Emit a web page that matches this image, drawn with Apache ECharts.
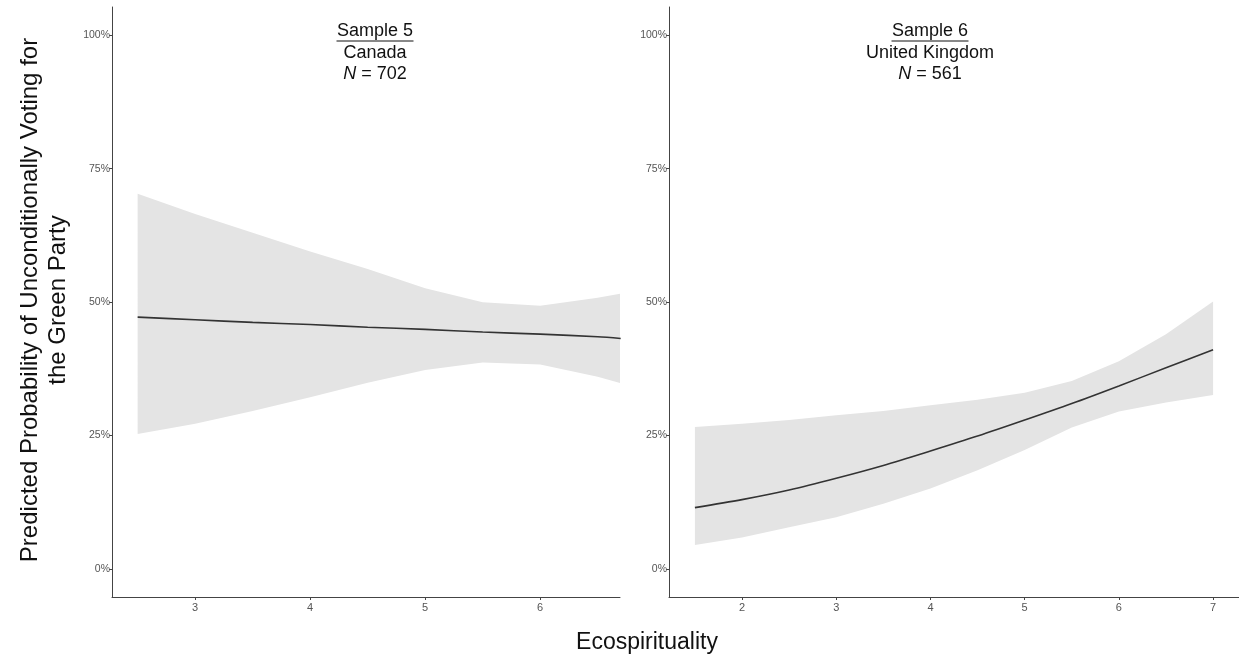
<!DOCTYPE html>
<html><head><meta charset="utf-8">
<script src="https://cdn.jsdelivr.net/npm/echarts@6/dist/echarts.min.js"></script>
<style>html,body{margin:0;padding:0;background:#fff}#c{width:1239px;height:661px}</style>
</head><body><div id="c"></div>
<script>
// Sample 5 - Canada
const canadaX     = [2.5, 3, 3.5, 4, 4.5, 5, 5.5, 6, 6.5, 6.7];
const canadaFit   = [47.2, 46.7, 46.2, 45.8, 45.3, 44.9, 44.4, 44.0, 43.5, 43.2];
const canadaLower = [25.3, 27.2, 29.6, 32.2, 34.9, 37.3, 38.7, 38.3, 36.0, 34.8];
const canadaUpper = [70.3, 66.5, 63.0, 59.5, 56.2, 52.6, 50.0, 49.3, 50.8, 51.6];
// Sample 6 - United Kingdom
const ukX     = [1.5, 2, 2.5, 3, 3.5, 4, 4.5, 5, 5.5, 6, 6.5, 7];
const ukFit   = [11.5, 13.0, 14.8, 17.0, 19.4, 22.1, 24.9, 27.9, 31.0, 34.3, 37.7, 41.1];
const ukLower = [4.5, 5.9, 7.8, 9.7, 12.2, 15.1, 18.5, 22.3, 26.5, 29.5, 31.2, 32.6];
const ukUpper = [26.6, 27.2, 27.9, 28.8, 29.6, 30.7, 31.7, 33.0, 35.2, 38.9, 44.0, 50.1];
// ticks
const yTicks = [0, 25, 50, 75, 100];
const canadaXTicks = [3, 4, 5, 6];
const ukXTicks = [2, 3, 4, 5, 6, 7];

const FONT = '"Liberation Sans", Arial, sans-serif';
const zip = (xs, ys) => xs.map((x, i) => [x, ys[i]]);

function xAxis(gi, min, max, ticks) {
  return {
    type: 'value', gridIndex: gi, min: min, max: max,
    axisLine: {show: true, onZero: false, lineStyle: {color: '#444', width: 1}},
    axisTick: {show: true, length: 3, customValues: ticks, lineStyle: {color: '#444'}},
    axisLabel: {customValues: ticks, color: '#555', fontSize: 11, fontFamily: FONT, margin: 5},
    splitLine: {show: false}
  };
}
function yAxis(gi) {
  return {
    type: 'value', gridIndex: gi, min: -5.25, max: 105.3,
    axisLine: {show: true, onZero: false, lineStyle: {color: '#444', width: 1}},
    axisTick: {show: true, length: 3, customValues: yTicks, lineStyle: {color: '#444'}},
    axisLabel: {customValues: yTicks, formatter: v => v + '%', color: '#555', fontSize: 10.5, fontFamily: FONT, margin: 2},
    splitLine: {show: false}
  };
}
function bandSeries(gi, xs, lo, up, fit) {
  return [
    {type: 'custom', xAxisIndex: gi, yAxisIndex: gi, data: [[xs[0], lo[0]]], clip: true, silent: true, z: 1,
     renderItem: function (params, api) {
       const pts = xs.map((x, i) => api.coord([x, up[i]]))
         .concat(xs.map((x, i) => api.coord([x, lo[i]])).reverse());
       return {type: 'polygon', shape: {points: pts}, style: {fill: '#e4e4e4', stroke: null}};
     }},
    {type: 'line', xAxisIndex: gi, yAxisIndex: gi, data: zip(xs, fit), symbol: 'none', smooth: 0.3,
     lineStyle: {color: '#333', width: 1.6}, z: 3}
  ];
}

function title(cx, l1, l2, l3) {
  const base = {fontSize: 18, fontFamily: FONT, fill: '#111', textAlign: 'center', textVerticalAlign: 'middle'};
  return [
    {type: 'text', x: cx, y: 31, style: Object.assign({text: l1}, base)},
    {type: 'line', shape: {x1: cx - 38.5, y1: 41, x2: cx + 38.5, y2: 41}, style: {stroke: '#111', lineWidth: 1}},
    {type: 'text', x: cx, y: 53, style: Object.assign({text: l2}, base)},
    {type: 'text', x: cx, y: 74, style: Object.assign({text: '{i|N} = ' + l3, rich: {i: {fontStyle: 'italic', fontSize: 18, fontFamily: FONT, fill: '#111'}}}, base)}
  ];
}

const chart = echarts.init(document.getElementById('c'), null, {renderer: 'canvas'});
chart.setOption({
  backgroundColor: '#fff',
  animation: false,
  grid: [
    {left: 112, top: 7, width: 508, height: 590},
    {left: 669, top: 7, width: 570, height: 590}
  ],
  xAxis: [xAxis(0, 2.277, 6.694, canadaXTicks), xAxis(1, 1.225, 7.275, ukXTicks)],
  yAxis: [yAxis(0), yAxis(1)],
  series: [].concat(
    bandSeries(0, canadaX, canadaLower, canadaUpper, canadaFit),
    bandSeries(1, ukX, ukLower, ukUpper, ukFit)
  ),
  graphic: [].concat(
    title(375, 'Sample 5', 'Canada', '702'),
    title(930, 'Sample 6', 'United Kingdom', '561'),
    [
      {type: 'text', x: 647, y: 643, style: {text: 'Ecospirituality', fontSize: 23, fontFamily: FONT, fill: '#111', textAlign: 'center', textVerticalAlign: 'middle'}},
      {type: 'text', x: 44, y: 300, rotation: Math.PI / 2,
       style: {text: 'Predicted Probability of Unconditionally Voting for\nthe Green Party', fontSize: 24, lineHeight: 28,
               fontFamily: FONT, fill: '#111', textAlign: 'center', textVerticalAlign: 'middle'}}
    ]
  )
});
</script>
</body></html>
